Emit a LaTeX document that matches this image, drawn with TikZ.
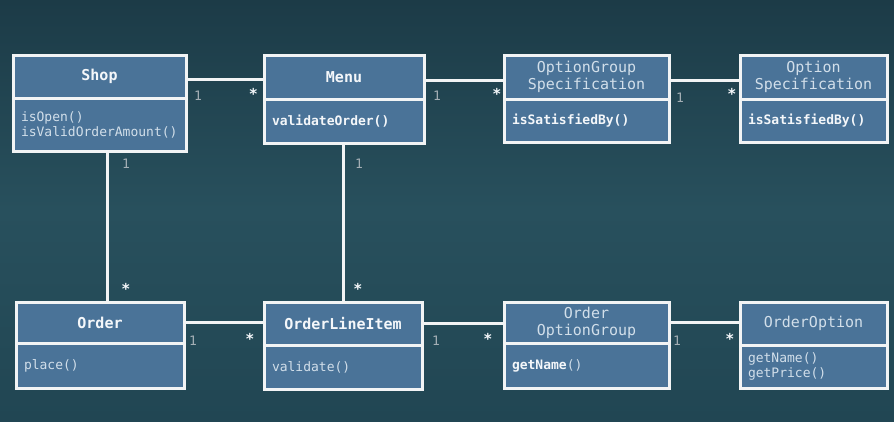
\documentclass[tikz,border=0pt]{standalone}
\usepackage{fontspec}
\setmonofont{DejaVu Sans Mono}
\definecolor{bgtop}{HTML}{1C3B47}
\definecolor{bgmid}{HTML}{28505D}
\definecolor{bgbot}{HTML}{214653}
\definecolor{boxfill}{HTML}{4A7398}
\definecolor{linecol}{HTML}{F2F4F5}
\definecolor{titlecol}{HTML}{F4F7FA}
\definecolor{lighttext}{HTML}{D2DFEA}
\definecolor{onecol}{HTML}{A4AFB5}
\begin{document}
\begin{tikzpicture}[x=1pt,y=-1pt,
  box/.style={draw=linecol, line width=3pt, fill=boxfill, outer sep=0pt, inner sep=0pt, anchor=north west},
  titleb/.style={box, font=\fontsize{15}{17}\selectfont\ttfamily\bfseries, text=titlecol, align=center},
  titler/.style={box, font=\fontsize{15}{17}\selectfont\ttfamily, text=lighttext, align=center},
  body/.style={box, inner xsep=8pt, inner ysep=0pt, align=left, font=\fontsize{13}{15}\selectfont\ttfamily, text=lighttext},
  bodyb/.style={body, font=\fontsize{13}{15}\selectfont\ttfamily\bfseries, text=titlecol},
  conn/.style={draw=linecol, line width=3pt},
  one/.style={text=onecol, font=\fontsize{13}{15}\selectfont\ttfamily, inner sep=0pt},
  many/.style={text=titlecol, font=\fontsize{15}{15}\selectfont\ttfamily\bfseries, inner sep=0pt}
]
\useasboundingbox (0,0) rectangle (894,421);
\shade[top color=bgtop, bottom color=bgmid, shading angle=0] (0,0) rectangle (894,210);
\shade[top color=bgmid, bottom color=bgbot] (0,210) rectangle (894,421);

% top row
\node[titleb, minimum width=173pt, minimum height=43pt] (shopH) at (13,55) {Shop};
\node[body, minimum width=173pt, minimum height=53pt, text width=157pt] (shopB) at (13,98) {isOpen()\\isValidOrderAmount()};

\node[titleb, minimum width=160pt, minimum height=44pt] (menuH) at (264,55) {Menu};
\node[bodyb, minimum width=160pt, minimum height=44pt, text width=144pt] (menuB) at (264,99) {validateOrder()};

\node[titler, minimum width=165pt, minimum height=44pt] (ogsH) at (504,55) {OptionGroup\\Specification};
\node[bodyb, minimum width=165pt, minimum height=43pt, text width=149pt] (ogsB) at (504,99) {isSatisfiedBy()};

\node[titler, minimum width=147pt, minimum height=44pt] (osH) at (740,55) {Option\\Specification};
\node[bodyb, minimum width=147pt, minimum height=43pt, text width=131pt] (osB) at (740,99) {isSatisfiedBy()};

% bottom row
\node[titleb, minimum width=168pt, minimum height=41pt] (orderH) at (16,302) {Order};
\node[body, minimum width=168pt, minimum height=45pt, text width=152pt] (orderB) at (16,343) {place()};

\node[titleb, minimum width=158pt, minimum height=43pt] (oliH) at (264,302) {OrderLineItem};
\node[body, minimum width=158pt, minimum height=44pt, text width=142pt] (oliB) at (264,345) {validate()};

\node[titler, minimum width=165pt, minimum height=41pt] (oogH) at (504,302) {Order\\OptionGroup};
\node[body, minimum width=165pt, minimum height=45pt, text width=149pt] (oogB) at (504,343) {\textbf{\color{titlecol}getName}()};

\node[titler, minimum width=147pt, minimum height=43pt] (ooH) at (740,302) {OrderOption};
\node[body, minimum width=147pt, minimum height=43pt, text width=131pt] (ooB) at (740,345) {getName()\\getPrice()};

% connectors
\draw[conn] ([yshift=-3pt]shopH.east) -- ([yshift=-3pt]shopH.east -| menuH.west);
\draw[conn] ([yshift=-3pt]menuH.east) -- ([yshift=-3pt]menuH.east -| ogsH.west);
\draw[conn] ([yshift=-3pt]ogsH.east) -- ([yshift=-3pt]ogsH.east -| osH.west);
\draw[conn] (orderH.east) -- (orderH.east -| oliH.west);
\draw[conn] (oliH.east) -- (oliH.east -| oogH.west);
\draw[conn] (orderH.east -| oogH.east) -- (orderH.east -| ooH.west);
\draw[conn] ([xshift=8pt]shopB.south) -- ([xshift=8pt]shopB.south |- orderH.north);
\draw[conn] ([xshift=-1pt]menuB.south) -- ([xshift=-1pt]menuB.south |- oliH.north);

% multiplicities
\node[one] (m1) at (198,95.5) {1};
\node[many] (m2) at (253.5,94) {*};
\node[one] (m3) at (437,96) {1};
\node[many] (m4) at (497,94) {*};
\node[one] (m5) at (680,98) {1};
\node[many] (m6) at (732,94) {*};
\node[one] (m7) at (126,164) {1};
\node[many] (m8) at (126,289) {*};
\node[one] (m9) at (359,164) {1};
\node[many] (m10) at (358,289) {*};
\node[one] (m11) at (193,341) {1};
\node[many] (m12) at (250,339) {*};
\node[one] (m13) at (436,341) {1};
\node[many] (m14) at (488,339) {*};
\node[one] (m15) at (677,341) {1};
\node[many] (m16) at (730,339) {*};
\end{tikzpicture}
\end{document}
